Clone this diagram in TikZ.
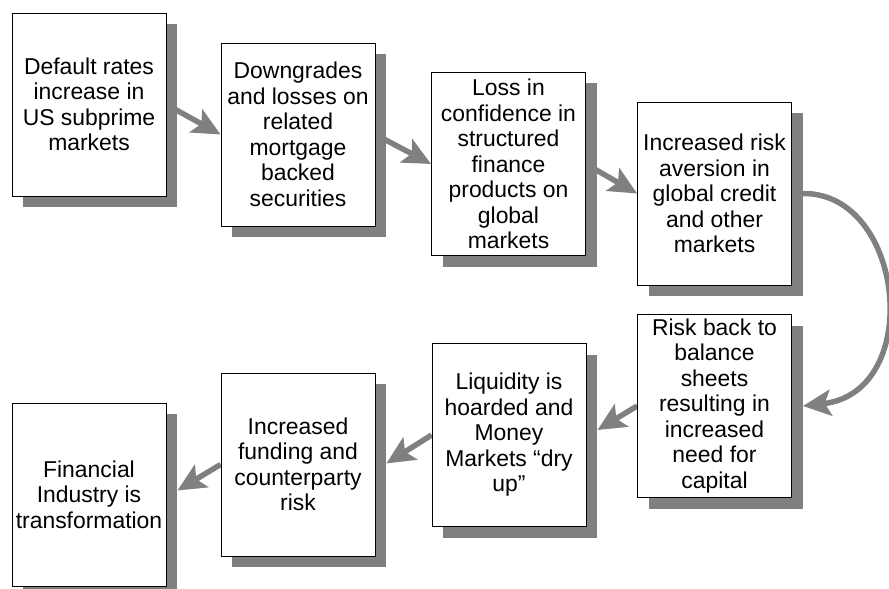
\documentclass[tikz,border=0pt]{standalone}
\usepackage{fontspec}
\setmainfont{Liberation Sans}
\usetikzlibrary{arrows.meta,shadows,backgrounds}
\tikzstyle{block} = [draw, fill=white, rectangle, line width=0.8bp,
    minimum width=154bp, minimum height=183bp, inner sep=0pt, align=center,
    font=\fontsize{23}{25.6}\selectfont,
    drop shadow={shadow xshift=11bp, shadow yshift=-11bp, fill=black!50, opacity=1}]
\tikzstyle{flow} = [draw=black!50, line width=5.5bp,
    -{Stealth[length=28bp,width=26bp,inset=6bp]}]

\begin{document}
\begin{tikzpicture}[x=1bp, y=-1bp]
    \useasboundingbox (0,0) rectangle (889,589);
    \node [block] at (89,104.5) (box1) {Default rates\\increase in\\US subprime\\markets};
    \node [block] at (298,134.5) (box2) {Downgrades\\and losses on\\related\\mortgage\\backed\\securities};
    \node [block] at (508.5,164) (box3) {Loss in\\confidence in\\structured\\finance\\products on\\global\\markets};
    \node [block] at (714.5,193.5) (box4) {Increased risk\\aversion in\\global credit\\and other\\markets};
    \node [block] at (714.5,406) (box5) {Risk back to\\balance\\sheets\\resulting in\\increased\\need for\\capital};
    \node [block] at (509,435) (box6) {Liquidity is\\hoarded and\\Money\\Markets “dry\\up”};
    \node [block] at (298,464.5) (box7) {Increased\\funding and\\counterparty\\risk};
    \node [block] at (89,494.5) (box8) {Financial\\Industry is\\transformation};
    \begin{scope}[on background layer]
    \draw [flow] (box1.east) -- (box2.west);
    \draw [flow] (box2.east) -- (box3.west);
    \draw [flow] (box3.east) -- (box4.west);
    \draw [flow] ([xshift=11bp]box4.east) .. controls +(102,-1) and +(122,-14) .. ([xshift=11bp]box5.east);
    \draw [flow] (box5.west) -- ([xshift=11bp,yshift=5bp]box6.east);
    \draw [flow] (box6.west) -- ([xshift=11bp,yshift=1bp]box7.east);
    \draw [flow] (box7.west) -- ([xshift=11bp,yshift=4bp]box8.east);
    \end{scope}
\end{tikzpicture}
\end{document}
